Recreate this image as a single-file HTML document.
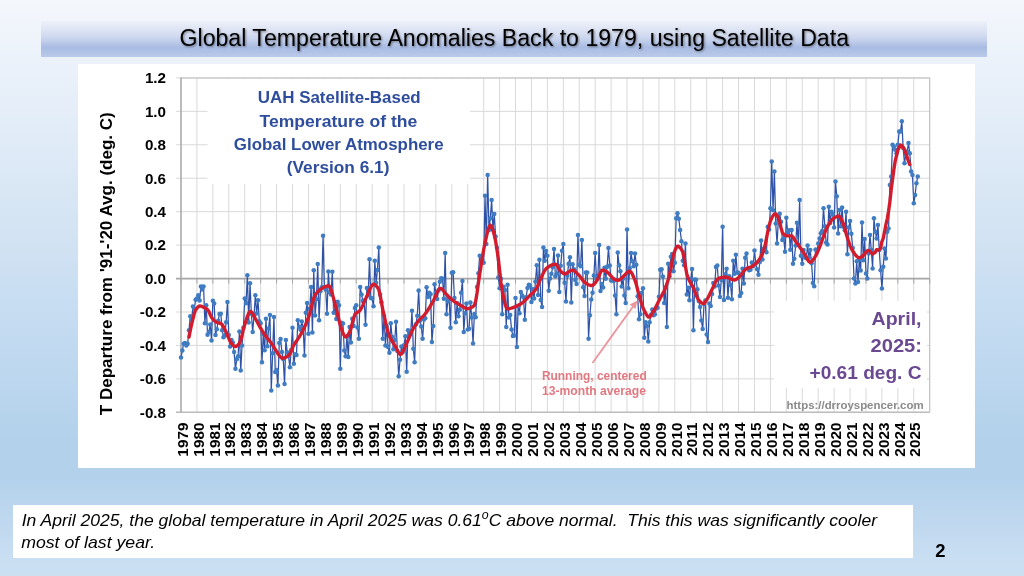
<!DOCTYPE html>
<html><head><meta charset="utf-8"><title>Global Temperature Anomalies</title>
<style>
html,body{margin:0;padding:0;width:1024px;height:576px;overflow:hidden}
body{position:relative;background:linear-gradient(180deg,#f4f7fc 0%,#e5eef9 18.4%,#d1e2f2 42.7%,#c7ddf2 53%,#bbd6ee 67%,#b3d1eb 76.7%,#b3d1eb 82.6%,#bcd6ee 88.5%,#cadff2 98%,#cbdff1 100%);font-family:"Liberation Sans",sans-serif}
#tb{position:absolute;left:41px;top:20.6px;width:946px;height:36px;background:linear-gradient(180deg,#eef1f9 0%,#e5eaf6 12%,#d6def1 35%,#c6d2ed 52%,#b2c3e6 66%,#a9bce3 74%,#b0c1e5 84%,#bbcaea 100%)}
#cb{position:absolute;left:78px;top:63.8px;width:897px;height:403.8px;background:#fff}
#bx{position:absolute;left:13px;top:504.5px;width:900px;height:53.5px;background:#fff}
svg{position:absolute;left:0;top:0}
</style></head><body>
<div id="tb"></div><div id="cb"></div><div id="bx"></div>
<svg width="1024" height="576" viewBox="0 0 1024 576">
<defs><filter id="sh" x="-5%" y="-30%" width="110%" height="160%"><feGaussianBlur in="SourceAlpha" stdDeviation="0.8"/><feOffset dx="1.2" dy="1.2" result="b"/><feComponentTransfer><feFuncA type="linear" slope="0.45"/></feComponentTransfer><feMerge><feMergeNode/><feMergeNode in="SourceGraphic"/></feMerge></filter><filter id="cbl" x="0" y="0" width="1024" height="576" filterUnits="userSpaceOnUse"><feGaussianBlur stdDeviation="0.45"/></filter></defs>
<text x="179.5" y="46" font-size="23" fill="#000" textLength="669.5" lengthAdjust="spacingAndGlyphs" filter="url(#sh)">Global Temperature Anomalies Back to 1979, using Satellite Data</text>
<g filter="url(#cbl)"><g stroke="#d9d9d9" stroke-width="1"><line x1="196.93" y1="78" x2="196.93" y2="412.3" /><line x1="212.86" y1="78" x2="212.86" y2="412.3" /><line x1="228.79" y1="78" x2="228.79" y2="412.3" /><line x1="244.72" y1="78" x2="244.72" y2="412.3" /><line x1="260.65" y1="78" x2="260.65" y2="412.3" /><line x1="276.58" y1="78" x2="276.58" y2="412.3" /><line x1="292.51" y1="78" x2="292.51" y2="412.3" /><line x1="308.44" y1="78" x2="308.44" y2="412.3" /><line x1="324.37" y1="78" x2="324.37" y2="412.3" /><line x1="340.30" y1="78" x2="340.30" y2="412.3" /><line x1="356.23" y1="78" x2="356.23" y2="412.3" /><line x1="372.16" y1="78" x2="372.16" y2="412.3" /><line x1="388.09" y1="78" x2="388.09" y2="412.3" /><line x1="404.02" y1="78" x2="404.02" y2="412.3" /><line x1="419.95" y1="78" x2="419.95" y2="412.3" /><line x1="435.88" y1="78" x2="435.88" y2="412.3" /><line x1="451.81" y1="78" x2="451.81" y2="412.3" /><line x1="467.74" y1="78" x2="467.74" y2="412.3" /><line x1="483.67" y1="78" x2="483.67" y2="412.3" /><line x1="499.60" y1="78" x2="499.60" y2="412.3" /><line x1="515.53" y1="78" x2="515.53" y2="412.3" /><line x1="531.46" y1="78" x2="531.46" y2="412.3" /><line x1="547.39" y1="78" x2="547.39" y2="412.3" /><line x1="563.32" y1="78" x2="563.32" y2="412.3" /><line x1="579.25" y1="78" x2="579.25" y2="412.3" /><line x1="595.18" y1="78" x2="595.18" y2="412.3" /><line x1="611.11" y1="78" x2="611.11" y2="412.3" /><line x1="627.04" y1="78" x2="627.04" y2="412.3" /><line x1="642.97" y1="78" x2="642.97" y2="412.3" /><line x1="658.90" y1="78" x2="658.90" y2="412.3" /><line x1="674.83" y1="78" x2="674.83" y2="412.3" /><line x1="690.76" y1="78" x2="690.76" y2="412.3" /><line x1="706.69" y1="78" x2="706.69" y2="412.3" /><line x1="722.62" y1="78" x2="722.62" y2="412.3" /><line x1="738.55" y1="78" x2="738.55" y2="412.3" /><line x1="754.48" y1="78" x2="754.48" y2="412.3" /><line x1="770.41" y1="78" x2="770.41" y2="412.3" /><line x1="786.34" y1="78" x2="786.34" y2="412.3" /><line x1="802.27" y1="78" x2="802.27" y2="412.3" /><line x1="818.20" y1="78" x2="818.20" y2="412.3" /><line x1="834.13" y1="78" x2="834.13" y2="412.3" /><line x1="850.06" y1="78" x2="850.06" y2="412.3" /><line x1="865.99" y1="78" x2="865.99" y2="412.3" /><line x1="881.92" y1="78" x2="881.92" y2="412.3" /><line x1="897.85" y1="78" x2="897.85" y2="412.3" /><line x1="913.78" y1="78" x2="913.78" y2="412.3" /></g>
<g stroke="#d9d9d9" stroke-width="1"><line x1="176" y1="77.90" x2="929.5" y2="77.90" /><line x1="176" y1="111.34" x2="929.5" y2="111.34" /><line x1="176" y1="144.78" x2="929.5" y2="144.78" /><line x1="176" y1="178.22" x2="929.5" y2="178.22" /><line x1="176" y1="211.66" x2="929.5" y2="211.66" /><line x1="176" y1="245.10" x2="929.5" y2="245.10" /><line x1="176" y1="311.98" x2="929.5" y2="311.98" /><line x1="176" y1="345.42" x2="929.5" y2="345.42" /><line x1="176" y1="378.86" x2="929.5" y2="378.86" /><line x1="176" y1="412.30" x2="929.5" y2="412.30" /></g>
<rect x="207.5" y="79" width="262.5" height="105" fill="#fff"/>
<rect x="774" y="300.8" width="153" height="87.2" fill="#fff"/>
<path d="M181 78 H929.7 V412.3" fill="none" stroke="#bfbfbf" stroke-width="1.2"/>
<line x1="176" y1="278.54" x2="929.5" y2="278.54" stroke="#a6a6a6" stroke-width="1.8"/>
<path d="M181.00 278.54v5M196.93 278.54v5M212.86 278.54v5M228.79 278.54v5M244.72 278.54v5M260.65 278.54v5M276.58 278.54v5M292.51 278.54v5M308.44 278.54v5M324.37 278.54v5M340.30 278.54v5M356.23 278.54v5M372.16 278.54v5M388.09 278.54v5M404.02 278.54v5M419.95 278.54v5M435.88 278.54v5M451.81 278.54v5M467.74 278.54v5M483.67 278.54v5M499.60 278.54v5M515.53 278.54v5M531.46 278.54v5M547.39 278.54v5M563.32 278.54v5M579.25 278.54v5M595.18 278.54v5M611.11 278.54v5M627.04 278.54v5M642.97 278.54v5M658.90 278.54v5M674.83 278.54v5M690.76 278.54v5M706.69 278.54v5M722.62 278.54v5M738.55 278.54v5M754.48 278.54v5M770.41 278.54v5M786.34 278.54v5M802.27 278.54v5M818.20 278.54v5M834.13 278.54v5M850.06 278.54v5M865.99 278.54v5M881.92 278.54v5M897.85 278.54v5M913.78 278.54v5M929.71 278.54v5" stroke="#a6a6a6" stroke-width="1"/>
<path d="M176 412.3 H929.7" fill="none" stroke="#bdbdbd" stroke-width="1.4"/>
<path d="M181 77.4 V412.3" fill="none" stroke="#ababab" stroke-width="1.6"/>
<g font-size="15.2" font-weight="bold" fill="#000"><text x="166" y="83.20" text-anchor="end">1.2</text><text x="166" y="116.64" text-anchor="end">1.0</text><text x="166" y="150.08" text-anchor="end">0.8</text><text x="166" y="183.52" text-anchor="end">0.6</text><text x="166" y="216.96" text-anchor="end">0.4</text><text x="166" y="250.40" text-anchor="end">0.2</text><text x="166" y="283.84" text-anchor="end">0.0</text><text x="166" y="317.28" text-anchor="end">-0.2</text><text x="166" y="350.72" text-anchor="end">-0.4</text><text x="166" y="384.16" text-anchor="end">-0.6</text><text x="166" y="417.60" text-anchor="end">-0.8</text></g>
<g font-size="15.3" font-weight="bold" fill="#000"><text transform="translate(187.70,422.6) rotate(-90)" text-anchor="end">1979</text><text transform="translate(203.63,422.6) rotate(-90)" text-anchor="end">1980</text><text transform="translate(219.56,422.6) rotate(-90)" text-anchor="end">1981</text><text transform="translate(235.49,422.6) rotate(-90)" text-anchor="end">1982</text><text transform="translate(251.42,422.6) rotate(-90)" text-anchor="end">1983</text><text transform="translate(267.35,422.6) rotate(-90)" text-anchor="end">1984</text><text transform="translate(283.28,422.6) rotate(-90)" text-anchor="end">1985</text><text transform="translate(299.21,422.6) rotate(-90)" text-anchor="end">1986</text><text transform="translate(315.14,422.6) rotate(-90)" text-anchor="end">1987</text><text transform="translate(331.07,422.6) rotate(-90)" text-anchor="end">1988</text><text transform="translate(347.00,422.6) rotate(-90)" text-anchor="end">1989</text><text transform="translate(362.93,422.6) rotate(-90)" text-anchor="end">1990</text><text transform="translate(378.86,422.6) rotate(-90)" text-anchor="end">1991</text><text transform="translate(394.79,422.6) rotate(-90)" text-anchor="end">1992</text><text transform="translate(410.72,422.6) rotate(-90)" text-anchor="end">1993</text><text transform="translate(426.65,422.6) rotate(-90)" text-anchor="end">1994</text><text transform="translate(442.58,422.6) rotate(-90)" text-anchor="end">1995</text><text transform="translate(458.51,422.6) rotate(-90)" text-anchor="end">1996</text><text transform="translate(474.44,422.6) rotate(-90)" text-anchor="end">1997</text><text transform="translate(490.37,422.6) rotate(-90)" text-anchor="end">1998</text><text transform="translate(506.30,422.6) rotate(-90)" text-anchor="end">1999</text><text transform="translate(522.23,422.6) rotate(-90)" text-anchor="end">2000</text><text transform="translate(538.16,422.6) rotate(-90)" text-anchor="end">2001</text><text transform="translate(554.09,422.6) rotate(-90)" text-anchor="end">2002</text><text transform="translate(570.02,422.6) rotate(-90)" text-anchor="end">2003</text><text transform="translate(585.95,422.6) rotate(-90)" text-anchor="end">2004</text><text transform="translate(601.88,422.6) rotate(-90)" text-anchor="end">2005</text><text transform="translate(617.81,422.6) rotate(-90)" text-anchor="end">2006</text><text transform="translate(633.74,422.6) rotate(-90)" text-anchor="end">2007</text><text transform="translate(649.67,422.6) rotate(-90)" text-anchor="end">2008</text><text transform="translate(665.60,422.6) rotate(-90)" text-anchor="end">2009</text><text transform="translate(681.53,422.6) rotate(-90)" text-anchor="end">2010</text><text transform="translate(697.46,422.6) rotate(-90)" text-anchor="end">2011</text><text transform="translate(713.39,422.6) rotate(-90)" text-anchor="end">2012</text><text transform="translate(729.32,422.6) rotate(-90)" text-anchor="end">2013</text><text transform="translate(745.25,422.6) rotate(-90)" text-anchor="end">2014</text><text transform="translate(761.18,422.6) rotate(-90)" text-anchor="end">2015</text><text transform="translate(777.11,422.6) rotate(-90)" text-anchor="end">2016</text><text transform="translate(793.04,422.6) rotate(-90)" text-anchor="end">2017</text><text transform="translate(808.97,422.6) rotate(-90)" text-anchor="end">2018</text><text transform="translate(824.90,422.6) rotate(-90)" text-anchor="end">2019</text><text transform="translate(840.83,422.6) rotate(-90)" text-anchor="end">2020</text><text transform="translate(856.76,422.6) rotate(-90)" text-anchor="end">2021</text><text transform="translate(872.69,422.6) rotate(-90)" text-anchor="end">2022</text><text transform="translate(888.62,422.6) rotate(-90)" text-anchor="end">2023</text><text transform="translate(904.55,422.6) rotate(-90)" text-anchor="end">2024</text><text transform="translate(920.48,422.6) rotate(-90)" text-anchor="end">2025</text></g>
<text transform="translate(112.4,415.2) rotate(-90)" font-size="17" font-weight="bold" fill="#000" textLength="303" lengthAdjust="spacingAndGlyphs">T Departure from '91-'20 Avg. (deg. C)</text>
<g font-size="15.6" font-weight="bold" fill="#2e4d9c"><text x="257.7" y="103.3" textLength="163" lengthAdjust="spacingAndGlyphs">UAH Satellite-Based</text><text x="259.5" y="126.5" textLength="157.8" lengthAdjust="spacingAndGlyphs">Temperature of the</text><text x="233.8" y="150" textLength="209.8" lengthAdjust="spacingAndGlyphs">Global Lower Atmosphere</text><text x="286.8" y="173.2" textLength="102.6" lengthAdjust="spacingAndGlyphs">(Version 6.1)</text></g>
<polyline points="181.00,357.46 182.33,350.44 183.66,343.75 184.98,342.91 186.31,345.42 187.64,343.75 188.97,330.37 190.29,316.16 191.62,320.01 192.95,306.46 194.28,308.80 195.60,299.77 196.93,298.44 198.26,295.26 199.59,300.44 200.91,286.40 202.24,289.41 203.57,286.40 204.90,323.18 206.22,305.29 207.55,334.72 208.88,332.04 210.20,324.52 211.53,340.40 212.86,300.78 214.19,303.62 215.51,334.89 216.84,329.37 218.17,320.67 219.50,313.99 220.82,313.65 222.15,330.37 223.48,337.23 224.81,335.39 226.13,322.18 227.46,301.95 228.79,334.89 230.12,346.59 231.44,340.07 232.77,342.41 234.10,352.11 235.43,368.83 236.75,359.13 238.08,356.29 239.41,331.54 240.74,370.50 242.06,345.42 243.39,327.70 244.72,298.60 246.05,303.29 247.38,275.20 248.70,322.51 250.03,283.22 251.36,313.82 252.69,332.04 254.01,315.66 255.34,295.26 256.67,313.48 258.00,300.28 259.32,321.18 260.65,323.35 261.98,362.14 263.31,333.88 264.63,350.27 265.96,318.67 267.29,346.26 268.62,328.53 269.94,314.99 271.27,390.56 272.60,353.28 273.93,317.00 275.25,372.00 276.58,370.00 277.91,385.55 279.24,342.91 280.56,338.90 281.89,351.94 283.22,358.96 284.55,383.88 285.87,339.90 287.20,352.28 288.53,355.95 289.86,367.16 291.18,350.10 292.51,327.86 293.84,363.81 295.17,354.28 296.49,355.12 297.82,320.34 299.15,326.86 300.48,329.87 301.80,321.51 303.13,328.03 304.46,355.45 305.79,312.65 307.11,302.95 308.44,333.72 309.77,308.64 311.10,286.90 312.42,332.38 313.75,270.18 315.08,315.49 316.40,299.27 317.73,263.99 319.06,320.34 320.39,291.25 321.72,287.23 323.04,235.74 324.37,287.23 325.70,289.74 327.02,313.65 328.35,271.52 329.68,292.25 331.01,294.42 332.34,271.85 333.66,312.82 334.99,307.80 336.32,319.00 337.64,301.78 338.97,305.29 340.30,368.83 341.63,322.68 342.96,323.52 344.28,350.60 345.61,356.29 346.94,336.39 348.26,357.12 349.59,327.03 350.92,342.58 352.25,318.67 353.58,326.02 354.90,307.97 356.23,305.29 357.56,327.53 358.88,338.73 360.21,287.07 361.54,294.59 362.87,300.94 364.20,300.61 365.52,324.85 366.85,288.07 368.18,295.09 369.50,259.14 370.83,298.10 372.16,298.60 373.49,306.30 374.81,260.65 376.14,282.72 377.47,270.01 378.80,247.61 380.12,294.42 381.45,302.28 382.78,338.73 384.11,315.99 385.43,345.42 386.76,326.53 388.09,347.09 389.42,352.78 390.75,323.18 392.07,336.73 393.40,349.27 394.73,340.24 396.05,321.84 397.38,351.10 398.71,376.35 400.04,359.63 401.37,346.59 402.69,351.94 404.02,345.25 405.35,336.22 406.67,371.67 408.00,330.37 409.33,335.22 410.66,333.55 411.99,310.81 413.31,348.76 414.64,362.14 415.97,324.35 417.29,315.83 418.62,290.41 419.95,320.67 421.28,326.53 422.61,338.73 423.93,319.50 425.26,318.33 426.59,287.23 427.91,297.10 429.24,292.75 430.57,294.26 431.90,342.08 433.23,326.02 434.55,284.22 435.88,292.75 437.21,298.94 438.54,290.41 439.86,281.72 441.19,278.21 442.52,278.71 443.84,298.77 445.17,252.96 446.50,314.15 447.83,301.28 449.16,299.11 450.48,327.86 451.81,272.86 453.14,272.19 454.46,297.94 455.79,322.35 457.12,303.29 458.45,316.16 459.77,309.64 461.10,292.75 462.43,281.05 463.76,332.04 465.08,313.32 466.41,303.45 467.74,329.54 469.07,328.70 470.39,302.45 471.72,317.50 473.05,343.41 474.38,313.99 475.70,317.33 477.03,286.90 478.36,273.19 479.69,255.80 481.01,262.82 482.34,259.98 483.67,262.82 485.00,195.78 486.32,244.10 487.65,174.88 488.98,230.05 490.31,218.35 491.63,199.96 492.96,229.72 494.29,214.00 495.62,236.57 496.94,247.78 498.27,277.54 499.60,288.24 500.93,278.87 502.25,314.32 503.58,286.73 504.91,289.91 506.24,327.03 507.56,284.73 508.89,317.50 510.22,314.99 511.55,329.54 512.88,335.89 514.20,335.39 515.53,297.94 516.86,347.09 518.18,306.30 519.51,313.15 520.84,292.08 522.17,295.43 523.49,297.60 524.82,319.67 526.15,297.27 527.48,287.90 528.81,284.73 530.13,285.40 531.46,301.95 532.79,289.07 534.12,298.60 535.44,281.55 536.77,265.16 538.10,294.93 539.42,259.65 540.75,299.94 542.08,306.96 543.41,247.61 544.73,260.65 546.06,251.12 547.39,255.63 548.72,290.75 550.05,278.54 551.37,273.86 552.70,267.34 554.03,249.11 555.36,276.20 556.68,273.69 558.01,255.47 559.34,291.92 560.66,265.83 561.99,250.78 563.32,243.93 564.65,282.72 565.97,301.61 567.30,275.70 568.63,263.83 569.96,257.14 571.29,302.45 572.61,264.16 573.94,269.18 575.27,280.04 576.60,284.06 577.92,235.07 579.25,264.83 580.58,266.33 581.90,240.08 583.23,287.23 584.56,295.93 585.89,272.52 587.21,272.52 588.54,338.73 589.87,315.32 591.20,299.44 592.53,292.75 593.85,275.53 595.18,252.96 596.51,278.87 597.84,276.53 599.16,245.10 600.49,290.91 601.82,283.89 603.14,287.40 604.47,267.84 605.80,278.71 607.13,266.67 608.45,247.94 609.78,265.50 611.11,280.55 612.44,280.04 613.77,280.88 615.09,295.59 616.42,314.15 617.75,252.62 619.08,265.16 620.40,271.18 621.73,286.40 623.06,278.71 624.38,295.59 625.71,302.95 627.04,229.55 628.37,288.24 629.69,268.34 631.02,252.96 632.35,261.32 633.68,266.17 635.00,253.46 636.33,264.66 637.66,296.26 638.99,319.17 640.32,314.32 641.64,292.92 642.97,288.24 644.30,337.73 645.62,322.35 646.95,326.02 648.28,341.57 649.61,322.18 650.93,314.82 652.26,309.47 653.59,315.16 654.92,314.32 656.24,308.47 657.57,307.80 658.90,296.76 660.23,269.68 661.56,269.34 662.88,276.53 664.21,302.95 665.54,287.57 666.87,327.03 668.19,263.83 669.52,276.37 670.85,256.64 672.17,253.96 673.50,271.35 674.83,262.66 676.16,218.35 677.48,213.33 678.81,218.85 680.14,230.05 681.47,241.25 682.80,260.82 684.12,265.33 685.45,243.43 686.78,294.59 688.11,287.74 689.43,300.28 690.76,279.21 692.09,269.01 693.41,330.37 694.74,279.54 696.07,279.71 697.40,289.24 698.73,301.11 700.05,306.96 701.38,320.51 702.71,329.03 704.03,303.95 705.36,300.44 706.69,334.55 708.02,342.08 709.35,303.62 710.67,305.96 712.00,293.92 713.33,283.05 714.65,286.57 715.98,267.00 717.31,265.50 718.64,285.56 719.97,296.93 721.29,279.88 722.62,226.71 723.95,300.11 725.27,274.19 726.60,268.68 727.93,297.77 729.26,276.20 730.58,285.06 731.91,299.27 733.24,260.82 734.57,273.69 735.89,254.80 737.22,272.52 738.55,272.69 739.88,296.10 741.21,292.92 742.53,268.84 743.86,283.56 745.19,257.81 746.51,253.46 747.84,268.17 749.17,270.18 750.50,269.68 751.82,262.49 753.15,266.33 754.48,250.45 755.81,263.49 757.13,269.34 758.46,274.86 759.79,261.99 761.12,240.42 762.45,259.48 763.77,249.11 765.10,250.62 766.43,252.29 767.75,226.71 769.08,229.38 770.41,208.32 771.74,161.50 773.06,210.16 774.39,171.53 775.72,223.53 777.05,243.43 778.38,220.02 779.70,213.83 781.03,221.69 782.36,239.92 783.69,238.24 785.01,251.79 786.34,217.68 787.67,232.56 789.00,230.22 790.32,249.78 791.65,230.05 792.98,263.66 794.30,258.81 795.63,245.60 796.96,222.86 798.29,244.43 799.62,199.96 800.94,255.63 802.27,263.66 803.60,249.95 804.92,257.14 806.25,258.14 807.58,245.60 808.91,257.47 810.24,250.12 811.56,263.16 812.89,283.05 814.22,286.23 815.54,249.45 816.87,251.79 818.20,243.60 819.53,238.41 820.86,233.23 822.18,231.06 823.51,208.32 824.84,226.21 826.16,242.59 827.49,244.60 828.82,206.64 830.15,223.03 831.48,211.66 832.80,214.17 834.13,227.38 835.46,181.56 836.78,196.28 838.11,233.40 839.44,209.99 840.77,226.37 842.09,207.48 843.42,226.71 844.75,230.22 846.08,211.66 847.40,254.13 848.73,227.38 850.06,221.02 851.39,233.73 852.72,248.11 854.04,278.54 855.37,283.56 856.70,261.32 858.02,281.88 859.35,259.31 860.68,270.51 862.01,222.53 863.33,260.15 864.66,239.08 865.99,273.52 867.32,278.54 868.64,253.46 869.97,235.07 871.30,250.12 872.63,268.51 873.95,218.35 875.28,231.72 876.61,238.41 877.94,225.04 879.26,250.12 880.59,270.18 881.92,288.57 883.25,266.84 884.57,248.44 885.90,258.48 887.23,231.72 888.56,228.38 889.88,184.91 891.21,176.55 892.54,144.78 893.87,146.45 895.20,149.80 896.52,153.14 897.85,144.78 899.18,131.40 900.50,131.40 901.83,121.37 903.16,148.12 904.49,163.17 905.82,154.81 907.14,151.47 908.47,143.11 909.80,153.14 911.12,171.53 912.45,174.88 913.78,203.30 915.11,194.94 916.43,183.24 917.76,176.55" fill="none" stroke="#2f52a6" stroke-width="1.25" stroke-linejoin="round"/>
<g fill="#3f7cc2"><circle cx="181.00" cy="357.46" r="2.25"/><circle cx="182.33" cy="350.44" r="2.25"/><circle cx="183.66" cy="343.75" r="2.25"/><circle cx="184.98" cy="342.91" r="2.25"/><circle cx="186.31" cy="345.42" r="2.25"/><circle cx="187.64" cy="343.75" r="2.25"/><circle cx="188.97" cy="330.37" r="2.25"/><circle cx="190.29" cy="316.16" r="2.25"/><circle cx="191.62" cy="320.01" r="2.25"/><circle cx="192.95" cy="306.46" r="2.25"/><circle cx="194.28" cy="308.80" r="2.25"/><circle cx="195.60" cy="299.77" r="2.25"/><circle cx="196.93" cy="298.44" r="2.25"/><circle cx="198.26" cy="295.26" r="2.25"/><circle cx="199.59" cy="300.44" r="2.25"/><circle cx="200.91" cy="286.40" r="2.25"/><circle cx="202.24" cy="289.41" r="2.25"/><circle cx="203.57" cy="286.40" r="2.25"/><circle cx="204.90" cy="323.18" r="2.25"/><circle cx="206.22" cy="305.29" r="2.25"/><circle cx="207.55" cy="334.72" r="2.25"/><circle cx="208.88" cy="332.04" r="2.25"/><circle cx="210.20" cy="324.52" r="2.25"/><circle cx="211.53" cy="340.40" r="2.25"/><circle cx="212.86" cy="300.78" r="2.25"/><circle cx="214.19" cy="303.62" r="2.25"/><circle cx="215.51" cy="334.89" r="2.25"/><circle cx="216.84" cy="329.37" r="2.25"/><circle cx="218.17" cy="320.67" r="2.25"/><circle cx="219.50" cy="313.99" r="2.25"/><circle cx="220.82" cy="313.65" r="2.25"/><circle cx="222.15" cy="330.37" r="2.25"/><circle cx="223.48" cy="337.23" r="2.25"/><circle cx="224.81" cy="335.39" r="2.25"/><circle cx="226.13" cy="322.18" r="2.25"/><circle cx="227.46" cy="301.95" r="2.25"/><circle cx="228.79" cy="334.89" r="2.25"/><circle cx="230.12" cy="346.59" r="2.25"/><circle cx="231.44" cy="340.07" r="2.25"/><circle cx="232.77" cy="342.41" r="2.25"/><circle cx="234.10" cy="352.11" r="2.25"/><circle cx="235.43" cy="368.83" r="2.25"/><circle cx="236.75" cy="359.13" r="2.25"/><circle cx="238.08" cy="356.29" r="2.25"/><circle cx="239.41" cy="331.54" r="2.25"/><circle cx="240.74" cy="370.50" r="2.25"/><circle cx="242.06" cy="345.42" r="2.25"/><circle cx="243.39" cy="327.70" r="2.25"/><circle cx="244.72" cy="298.60" r="2.25"/><circle cx="246.05" cy="303.29" r="2.25"/><circle cx="247.38" cy="275.20" r="2.25"/><circle cx="248.70" cy="322.51" r="2.25"/><circle cx="250.03" cy="283.22" r="2.25"/><circle cx="251.36" cy="313.82" r="2.25"/><circle cx="252.69" cy="332.04" r="2.25"/><circle cx="254.01" cy="315.66" r="2.25"/><circle cx="255.34" cy="295.26" r="2.25"/><circle cx="256.67" cy="313.48" r="2.25"/><circle cx="258.00" cy="300.28" r="2.25"/><circle cx="259.32" cy="321.18" r="2.25"/><circle cx="260.65" cy="323.35" r="2.25"/><circle cx="261.98" cy="362.14" r="2.25"/><circle cx="263.31" cy="333.88" r="2.25"/><circle cx="264.63" cy="350.27" r="2.25"/><circle cx="265.96" cy="318.67" r="2.25"/><circle cx="267.29" cy="346.26" r="2.25"/><circle cx="268.62" cy="328.53" r="2.25"/><circle cx="269.94" cy="314.99" r="2.25"/><circle cx="271.27" cy="390.56" r="2.25"/><circle cx="272.60" cy="353.28" r="2.25"/><circle cx="273.93" cy="317.00" r="2.25"/><circle cx="275.25" cy="372.00" r="2.25"/><circle cx="276.58" cy="370.00" r="2.25"/><circle cx="277.91" cy="385.55" r="2.25"/><circle cx="279.24" cy="342.91" r="2.25"/><circle cx="280.56" cy="338.90" r="2.25"/><circle cx="281.89" cy="351.94" r="2.25"/><circle cx="283.22" cy="358.96" r="2.25"/><circle cx="284.55" cy="383.88" r="2.25"/><circle cx="285.87" cy="339.90" r="2.25"/><circle cx="287.20" cy="352.28" r="2.25"/><circle cx="288.53" cy="355.95" r="2.25"/><circle cx="289.86" cy="367.16" r="2.25"/><circle cx="291.18" cy="350.10" r="2.25"/><circle cx="292.51" cy="327.86" r="2.25"/><circle cx="293.84" cy="363.81" r="2.25"/><circle cx="295.17" cy="354.28" r="2.25"/><circle cx="296.49" cy="355.12" r="2.25"/><circle cx="297.82" cy="320.34" r="2.25"/><circle cx="299.15" cy="326.86" r="2.25"/><circle cx="300.48" cy="329.87" r="2.25"/><circle cx="301.80" cy="321.51" r="2.25"/><circle cx="303.13" cy="328.03" r="2.25"/><circle cx="304.46" cy="355.45" r="2.25"/><circle cx="305.79" cy="312.65" r="2.25"/><circle cx="307.11" cy="302.95" r="2.25"/><circle cx="308.44" cy="333.72" r="2.25"/><circle cx="309.77" cy="308.64" r="2.25"/><circle cx="311.10" cy="286.90" r="2.25"/><circle cx="312.42" cy="332.38" r="2.25"/><circle cx="313.75" cy="270.18" r="2.25"/><circle cx="315.08" cy="315.49" r="2.25"/><circle cx="316.40" cy="299.27" r="2.25"/><circle cx="317.73" cy="263.99" r="2.25"/><circle cx="319.06" cy="320.34" r="2.25"/><circle cx="320.39" cy="291.25" r="2.25"/><circle cx="321.72" cy="287.23" r="2.25"/><circle cx="323.04" cy="235.74" r="2.25"/><circle cx="324.37" cy="287.23" r="2.25"/><circle cx="325.70" cy="289.74" r="2.25"/><circle cx="327.02" cy="313.65" r="2.25"/><circle cx="328.35" cy="271.52" r="2.25"/><circle cx="329.68" cy="292.25" r="2.25"/><circle cx="331.01" cy="294.42" r="2.25"/><circle cx="332.34" cy="271.85" r="2.25"/><circle cx="333.66" cy="312.82" r="2.25"/><circle cx="334.99" cy="307.80" r="2.25"/><circle cx="336.32" cy="319.00" r="2.25"/><circle cx="337.64" cy="301.78" r="2.25"/><circle cx="338.97" cy="305.29" r="2.25"/><circle cx="340.30" cy="368.83" r="2.25"/><circle cx="341.63" cy="322.68" r="2.25"/><circle cx="342.96" cy="323.52" r="2.25"/><circle cx="344.28" cy="350.60" r="2.25"/><circle cx="345.61" cy="356.29" r="2.25"/><circle cx="346.94" cy="336.39" r="2.25"/><circle cx="348.26" cy="357.12" r="2.25"/><circle cx="349.59" cy="327.03" r="2.25"/><circle cx="350.92" cy="342.58" r="2.25"/><circle cx="352.25" cy="318.67" r="2.25"/><circle cx="353.58" cy="326.02" r="2.25"/><circle cx="354.90" cy="307.97" r="2.25"/><circle cx="356.23" cy="305.29" r="2.25"/><circle cx="357.56" cy="327.53" r="2.25"/><circle cx="358.88" cy="338.73" r="2.25"/><circle cx="360.21" cy="287.07" r="2.25"/><circle cx="361.54" cy="294.59" r="2.25"/><circle cx="362.87" cy="300.94" r="2.25"/><circle cx="364.20" cy="300.61" r="2.25"/><circle cx="365.52" cy="324.85" r="2.25"/><circle cx="366.85" cy="288.07" r="2.25"/><circle cx="368.18" cy="295.09" r="2.25"/><circle cx="369.50" cy="259.14" r="2.25"/><circle cx="370.83" cy="298.10" r="2.25"/><circle cx="372.16" cy="298.60" r="2.25"/><circle cx="373.49" cy="306.30" r="2.25"/><circle cx="374.81" cy="260.65" r="2.25"/><circle cx="376.14" cy="282.72" r="2.25"/><circle cx="377.47" cy="270.01" r="2.25"/><circle cx="378.80" cy="247.61" r="2.25"/><circle cx="380.12" cy="294.42" r="2.25"/><circle cx="381.45" cy="302.28" r="2.25"/><circle cx="382.78" cy="338.73" r="2.25"/><circle cx="384.11" cy="315.99" r="2.25"/><circle cx="385.43" cy="345.42" r="2.25"/><circle cx="386.76" cy="326.53" r="2.25"/><circle cx="388.09" cy="347.09" r="2.25"/><circle cx="389.42" cy="352.78" r="2.25"/><circle cx="390.75" cy="323.18" r="2.25"/><circle cx="392.07" cy="336.73" r="2.25"/><circle cx="393.40" cy="349.27" r="2.25"/><circle cx="394.73" cy="340.24" r="2.25"/><circle cx="396.05" cy="321.84" r="2.25"/><circle cx="397.38" cy="351.10" r="2.25"/><circle cx="398.71" cy="376.35" r="2.25"/><circle cx="400.04" cy="359.63" r="2.25"/><circle cx="401.37" cy="346.59" r="2.25"/><circle cx="402.69" cy="351.94" r="2.25"/><circle cx="404.02" cy="345.25" r="2.25"/><circle cx="405.35" cy="336.22" r="2.25"/><circle cx="406.67" cy="371.67" r="2.25"/><circle cx="408.00" cy="330.37" r="2.25"/><circle cx="409.33" cy="335.22" r="2.25"/><circle cx="410.66" cy="333.55" r="2.25"/><circle cx="411.99" cy="310.81" r="2.25"/><circle cx="413.31" cy="348.76" r="2.25"/><circle cx="414.64" cy="362.14" r="2.25"/><circle cx="415.97" cy="324.35" r="2.25"/><circle cx="417.29" cy="315.83" r="2.25"/><circle cx="418.62" cy="290.41" r="2.25"/><circle cx="419.95" cy="320.67" r="2.25"/><circle cx="421.28" cy="326.53" r="2.25"/><circle cx="422.61" cy="338.73" r="2.25"/><circle cx="423.93" cy="319.50" r="2.25"/><circle cx="425.26" cy="318.33" r="2.25"/><circle cx="426.59" cy="287.23" r="2.25"/><circle cx="427.91" cy="297.10" r="2.25"/><circle cx="429.24" cy="292.75" r="2.25"/><circle cx="430.57" cy="294.26" r="2.25"/><circle cx="431.90" cy="342.08" r="2.25"/><circle cx="433.23" cy="326.02" r="2.25"/><circle cx="434.55" cy="284.22" r="2.25"/><circle cx="435.88" cy="292.75" r="2.25"/><circle cx="437.21" cy="298.94" r="2.25"/><circle cx="438.54" cy="290.41" r="2.25"/><circle cx="439.86" cy="281.72" r="2.25"/><circle cx="441.19" cy="278.21" r="2.25"/><circle cx="442.52" cy="278.71" r="2.25"/><circle cx="443.84" cy="298.77" r="2.25"/><circle cx="445.17" cy="252.96" r="2.25"/><circle cx="446.50" cy="314.15" r="2.25"/><circle cx="447.83" cy="301.28" r="2.25"/><circle cx="449.16" cy="299.11" r="2.25"/><circle cx="450.48" cy="327.86" r="2.25"/><circle cx="451.81" cy="272.86" r="2.25"/><circle cx="453.14" cy="272.19" r="2.25"/><circle cx="454.46" cy="297.94" r="2.25"/><circle cx="455.79" cy="322.35" r="2.25"/><circle cx="457.12" cy="303.29" r="2.25"/><circle cx="458.45" cy="316.16" r="2.25"/><circle cx="459.77" cy="309.64" r="2.25"/><circle cx="461.10" cy="292.75" r="2.25"/><circle cx="462.43" cy="281.05" r="2.25"/><circle cx="463.76" cy="332.04" r="2.25"/><circle cx="465.08" cy="313.32" r="2.25"/><circle cx="466.41" cy="303.45" r="2.25"/><circle cx="467.74" cy="329.54" r="2.25"/><circle cx="469.07" cy="328.70" r="2.25"/><circle cx="470.39" cy="302.45" r="2.25"/><circle cx="471.72" cy="317.50" r="2.25"/><circle cx="473.05" cy="343.41" r="2.25"/><circle cx="474.38" cy="313.99" r="2.25"/><circle cx="475.70" cy="317.33" r="2.25"/><circle cx="477.03" cy="286.90" r="2.25"/><circle cx="478.36" cy="273.19" r="2.25"/><circle cx="479.69" cy="255.80" r="2.25"/><circle cx="481.01" cy="262.82" r="2.25"/><circle cx="482.34" cy="259.98" r="2.25"/><circle cx="483.67" cy="262.82" r="2.25"/><circle cx="485.00" cy="195.78" r="2.25"/><circle cx="486.32" cy="244.10" r="2.25"/><circle cx="487.65" cy="174.88" r="2.25"/><circle cx="488.98" cy="230.05" r="2.25"/><circle cx="490.31" cy="218.35" r="2.25"/><circle cx="491.63" cy="199.96" r="2.25"/><circle cx="492.96" cy="229.72" r="2.25"/><circle cx="494.29" cy="214.00" r="2.25"/><circle cx="495.62" cy="236.57" r="2.25"/><circle cx="496.94" cy="247.78" r="2.25"/><circle cx="498.27" cy="277.54" r="2.25"/><circle cx="499.60" cy="288.24" r="2.25"/><circle cx="500.93" cy="278.87" r="2.25"/><circle cx="502.25" cy="314.32" r="2.25"/><circle cx="503.58" cy="286.73" r="2.25"/><circle cx="504.91" cy="289.91" r="2.25"/><circle cx="506.24" cy="327.03" r="2.25"/><circle cx="507.56" cy="284.73" r="2.25"/><circle cx="508.89" cy="317.50" r="2.25"/><circle cx="510.22" cy="314.99" r="2.25"/><circle cx="511.55" cy="329.54" r="2.25"/><circle cx="512.88" cy="335.89" r="2.25"/><circle cx="514.20" cy="335.39" r="2.25"/><circle cx="515.53" cy="297.94" r="2.25"/><circle cx="516.86" cy="347.09" r="2.25"/><circle cx="518.18" cy="306.30" r="2.25"/><circle cx="519.51" cy="313.15" r="2.25"/><circle cx="520.84" cy="292.08" r="2.25"/><circle cx="522.17" cy="295.43" r="2.25"/><circle cx="523.49" cy="297.60" r="2.25"/><circle cx="524.82" cy="319.67" r="2.25"/><circle cx="526.15" cy="297.27" r="2.25"/><circle cx="527.48" cy="287.90" r="2.25"/><circle cx="528.81" cy="284.73" r="2.25"/><circle cx="530.13" cy="285.40" r="2.25"/><circle cx="531.46" cy="301.95" r="2.25"/><circle cx="532.79" cy="289.07" r="2.25"/><circle cx="534.12" cy="298.60" r="2.25"/><circle cx="535.44" cy="281.55" r="2.25"/><circle cx="536.77" cy="265.16" r="2.25"/><circle cx="538.10" cy="294.93" r="2.25"/><circle cx="539.42" cy="259.65" r="2.25"/><circle cx="540.75" cy="299.94" r="2.25"/><circle cx="542.08" cy="306.96" r="2.25"/><circle cx="543.41" cy="247.61" r="2.25"/><circle cx="544.73" cy="260.65" r="2.25"/><circle cx="546.06" cy="251.12" r="2.25"/><circle cx="547.39" cy="255.63" r="2.25"/><circle cx="548.72" cy="290.75" r="2.25"/><circle cx="550.05" cy="278.54" r="2.25"/><circle cx="551.37" cy="273.86" r="2.25"/><circle cx="552.70" cy="267.34" r="2.25"/><circle cx="554.03" cy="249.11" r="2.25"/><circle cx="555.36" cy="276.20" r="2.25"/><circle cx="556.68" cy="273.69" r="2.25"/><circle cx="558.01" cy="255.47" r="2.25"/><circle cx="559.34" cy="291.92" r="2.25"/><circle cx="560.66" cy="265.83" r="2.25"/><circle cx="561.99" cy="250.78" r="2.25"/><circle cx="563.32" cy="243.93" r="2.25"/><circle cx="564.65" cy="282.72" r="2.25"/><circle cx="565.97" cy="301.61" r="2.25"/><circle cx="567.30" cy="275.70" r="2.25"/><circle cx="568.63" cy="263.83" r="2.25"/><circle cx="569.96" cy="257.14" r="2.25"/><circle cx="571.29" cy="302.45" r="2.25"/><circle cx="572.61" cy="264.16" r="2.25"/><circle cx="573.94" cy="269.18" r="2.25"/><circle cx="575.27" cy="280.04" r="2.25"/><circle cx="576.60" cy="284.06" r="2.25"/><circle cx="577.92" cy="235.07" r="2.25"/><circle cx="579.25" cy="264.83" r="2.25"/><circle cx="580.58" cy="266.33" r="2.25"/><circle cx="581.90" cy="240.08" r="2.25"/><circle cx="583.23" cy="287.23" r="2.25"/><circle cx="584.56" cy="295.93" r="2.25"/><circle cx="585.89" cy="272.52" r="2.25"/><circle cx="587.21" cy="272.52" r="2.25"/><circle cx="588.54" cy="338.73" r="2.25"/><circle cx="589.87" cy="315.32" r="2.25"/><circle cx="591.20" cy="299.44" r="2.25"/><circle cx="592.53" cy="292.75" r="2.25"/><circle cx="593.85" cy="275.53" r="2.25"/><circle cx="595.18" cy="252.96" r="2.25"/><circle cx="596.51" cy="278.87" r="2.25"/><circle cx="597.84" cy="276.53" r="2.25"/><circle cx="599.16" cy="245.10" r="2.25"/><circle cx="600.49" cy="290.91" r="2.25"/><circle cx="601.82" cy="283.89" r="2.25"/><circle cx="603.14" cy="287.40" r="2.25"/><circle cx="604.47" cy="267.84" r="2.25"/><circle cx="605.80" cy="278.71" r="2.25"/><circle cx="607.13" cy="266.67" r="2.25"/><circle cx="608.45" cy="247.94" r="2.25"/><circle cx="609.78" cy="265.50" r="2.25"/><circle cx="611.11" cy="280.55" r="2.25"/><circle cx="612.44" cy="280.04" r="2.25"/><circle cx="613.77" cy="280.88" r="2.25"/><circle cx="615.09" cy="295.59" r="2.25"/><circle cx="616.42" cy="314.15" r="2.25"/><circle cx="617.75" cy="252.62" r="2.25"/><circle cx="619.08" cy="265.16" r="2.25"/><circle cx="620.40" cy="271.18" r="2.25"/><circle cx="621.73" cy="286.40" r="2.25"/><circle cx="623.06" cy="278.71" r="2.25"/><circle cx="624.38" cy="295.59" r="2.25"/><circle cx="625.71" cy="302.95" r="2.25"/><circle cx="627.04" cy="229.55" r="2.25"/><circle cx="628.37" cy="288.24" r="2.25"/><circle cx="629.69" cy="268.34" r="2.25"/><circle cx="631.02" cy="252.96" r="2.25"/><circle cx="632.35" cy="261.32" r="2.25"/><circle cx="633.68" cy="266.17" r="2.25"/><circle cx="635.00" cy="253.46" r="2.25"/><circle cx="636.33" cy="264.66" r="2.25"/><circle cx="637.66" cy="296.26" r="2.25"/><circle cx="638.99" cy="319.17" r="2.25"/><circle cx="640.32" cy="314.32" r="2.25"/><circle cx="641.64" cy="292.92" r="2.25"/><circle cx="642.97" cy="288.24" r="2.25"/><circle cx="644.30" cy="337.73" r="2.25"/><circle cx="645.62" cy="322.35" r="2.25"/><circle cx="646.95" cy="326.02" r="2.25"/><circle cx="648.28" cy="341.57" r="2.25"/><circle cx="649.61" cy="322.18" r="2.25"/><circle cx="650.93" cy="314.82" r="2.25"/><circle cx="652.26" cy="309.47" r="2.25"/><circle cx="653.59" cy="315.16" r="2.25"/><circle cx="654.92" cy="314.32" r="2.25"/><circle cx="656.24" cy="308.47" r="2.25"/><circle cx="657.57" cy="307.80" r="2.25"/><circle cx="658.90" cy="296.76" r="2.25"/><circle cx="660.23" cy="269.68" r="2.25"/><circle cx="661.56" cy="269.34" r="2.25"/><circle cx="662.88" cy="276.53" r="2.25"/><circle cx="664.21" cy="302.95" r="2.25"/><circle cx="665.54" cy="287.57" r="2.25"/><circle cx="666.87" cy="327.03" r="2.25"/><circle cx="668.19" cy="263.83" r="2.25"/><circle cx="669.52" cy="276.37" r="2.25"/><circle cx="670.85" cy="256.64" r="2.25"/><circle cx="672.17" cy="253.96" r="2.25"/><circle cx="673.50" cy="271.35" r="2.25"/><circle cx="674.83" cy="262.66" r="2.25"/><circle cx="676.16" cy="218.35" r="2.25"/><circle cx="677.48" cy="213.33" r="2.25"/><circle cx="678.81" cy="218.85" r="2.25"/><circle cx="680.14" cy="230.05" r="2.25"/><circle cx="681.47" cy="241.25" r="2.25"/><circle cx="682.80" cy="260.82" r="2.25"/><circle cx="684.12" cy="265.33" r="2.25"/><circle cx="685.45" cy="243.43" r="2.25"/><circle cx="686.78" cy="294.59" r="2.25"/><circle cx="688.11" cy="287.74" r="2.25"/><circle cx="689.43" cy="300.28" r="2.25"/><circle cx="690.76" cy="279.21" r="2.25"/><circle cx="692.09" cy="269.01" r="2.25"/><circle cx="693.41" cy="330.37" r="2.25"/><circle cx="694.74" cy="279.54" r="2.25"/><circle cx="696.07" cy="279.71" r="2.25"/><circle cx="697.40" cy="289.24" r="2.25"/><circle cx="698.73" cy="301.11" r="2.25"/><circle cx="700.05" cy="306.96" r="2.25"/><circle cx="701.38" cy="320.51" r="2.25"/><circle cx="702.71" cy="329.03" r="2.25"/><circle cx="704.03" cy="303.95" r="2.25"/><circle cx="705.36" cy="300.44" r="2.25"/><circle cx="706.69" cy="334.55" r="2.25"/><circle cx="708.02" cy="342.08" r="2.25"/><circle cx="709.35" cy="303.62" r="2.25"/><circle cx="710.67" cy="305.96" r="2.25"/><circle cx="712.00" cy="293.92" r="2.25"/><circle cx="713.33" cy="283.05" r="2.25"/><circle cx="714.65" cy="286.57" r="2.25"/><circle cx="715.98" cy="267.00" r="2.25"/><circle cx="717.31" cy="265.50" r="2.25"/><circle cx="718.64" cy="285.56" r="2.25"/><circle cx="719.97" cy="296.93" r="2.25"/><circle cx="721.29" cy="279.88" r="2.25"/><circle cx="722.62" cy="226.71" r="2.25"/><circle cx="723.95" cy="300.11" r="2.25"/><circle cx="725.27" cy="274.19" r="2.25"/><circle cx="726.60" cy="268.68" r="2.25"/><circle cx="727.93" cy="297.77" r="2.25"/><circle cx="729.26" cy="276.20" r="2.25"/><circle cx="730.58" cy="285.06" r="2.25"/><circle cx="731.91" cy="299.27" r="2.25"/><circle cx="733.24" cy="260.82" r="2.25"/><circle cx="734.57" cy="273.69" r="2.25"/><circle cx="735.89" cy="254.80" r="2.25"/><circle cx="737.22" cy="272.52" r="2.25"/><circle cx="738.55" cy="272.69" r="2.25"/><circle cx="739.88" cy="296.10" r="2.25"/><circle cx="741.21" cy="292.92" r="2.25"/><circle cx="742.53" cy="268.84" r="2.25"/><circle cx="743.86" cy="283.56" r="2.25"/><circle cx="745.19" cy="257.81" r="2.25"/><circle cx="746.51" cy="253.46" r="2.25"/><circle cx="747.84" cy="268.17" r="2.25"/><circle cx="749.17" cy="270.18" r="2.25"/><circle cx="750.50" cy="269.68" r="2.25"/><circle cx="751.82" cy="262.49" r="2.25"/><circle cx="753.15" cy="266.33" r="2.25"/><circle cx="754.48" cy="250.45" r="2.25"/><circle cx="755.81" cy="263.49" r="2.25"/><circle cx="757.13" cy="269.34" r="2.25"/><circle cx="758.46" cy="274.86" r="2.25"/><circle cx="759.79" cy="261.99" r="2.25"/><circle cx="761.12" cy="240.42" r="2.25"/><circle cx="762.45" cy="259.48" r="2.25"/><circle cx="763.77" cy="249.11" r="2.25"/><circle cx="765.10" cy="250.62" r="2.25"/><circle cx="766.43" cy="252.29" r="2.25"/><circle cx="767.75" cy="226.71" r="2.25"/><circle cx="769.08" cy="229.38" r="2.25"/><circle cx="770.41" cy="208.32" r="2.25"/><circle cx="771.74" cy="161.50" r="2.25"/><circle cx="773.06" cy="210.16" r="2.25"/><circle cx="774.39" cy="171.53" r="2.25"/><circle cx="775.72" cy="223.53" r="2.25"/><circle cx="777.05" cy="243.43" r="2.25"/><circle cx="778.38" cy="220.02" r="2.25"/><circle cx="779.70" cy="213.83" r="2.25"/><circle cx="781.03" cy="221.69" r="2.25"/><circle cx="782.36" cy="239.92" r="2.25"/><circle cx="783.69" cy="238.24" r="2.25"/><circle cx="785.01" cy="251.79" r="2.25"/><circle cx="786.34" cy="217.68" r="2.25"/><circle cx="787.67" cy="232.56" r="2.25"/><circle cx="789.00" cy="230.22" r="2.25"/><circle cx="790.32" cy="249.78" r="2.25"/><circle cx="791.65" cy="230.05" r="2.25"/><circle cx="792.98" cy="263.66" r="2.25"/><circle cx="794.30" cy="258.81" r="2.25"/><circle cx="795.63" cy="245.60" r="2.25"/><circle cx="796.96" cy="222.86" r="2.25"/><circle cx="798.29" cy="244.43" r="2.25"/><circle cx="799.62" cy="199.96" r="2.25"/><circle cx="800.94" cy="255.63" r="2.25"/><circle cx="802.27" cy="263.66" r="2.25"/><circle cx="803.60" cy="249.95" r="2.25"/><circle cx="804.92" cy="257.14" r="2.25"/><circle cx="806.25" cy="258.14" r="2.25"/><circle cx="807.58" cy="245.60" r="2.25"/><circle cx="808.91" cy="257.47" r="2.25"/><circle cx="810.24" cy="250.12" r="2.25"/><circle cx="811.56" cy="263.16" r="2.25"/><circle cx="812.89" cy="283.05" r="2.25"/><circle cx="814.22" cy="286.23" r="2.25"/><circle cx="815.54" cy="249.45" r="2.25"/><circle cx="816.87" cy="251.79" r="2.25"/><circle cx="818.20" cy="243.60" r="2.25"/><circle cx="819.53" cy="238.41" r="2.25"/><circle cx="820.86" cy="233.23" r="2.25"/><circle cx="822.18" cy="231.06" r="2.25"/><circle cx="823.51" cy="208.32" r="2.25"/><circle cx="824.84" cy="226.21" r="2.25"/><circle cx="826.16" cy="242.59" r="2.25"/><circle cx="827.49" cy="244.60" r="2.25"/><circle cx="828.82" cy="206.64" r="2.25"/><circle cx="830.15" cy="223.03" r="2.25"/><circle cx="831.48" cy="211.66" r="2.25"/><circle cx="832.80" cy="214.17" r="2.25"/><circle cx="834.13" cy="227.38" r="2.25"/><circle cx="835.46" cy="181.56" r="2.25"/><circle cx="836.78" cy="196.28" r="2.25"/><circle cx="838.11" cy="233.40" r="2.25"/><circle cx="839.44" cy="209.99" r="2.25"/><circle cx="840.77" cy="226.37" r="2.25"/><circle cx="842.09" cy="207.48" r="2.25"/><circle cx="843.42" cy="226.71" r="2.25"/><circle cx="844.75" cy="230.22" r="2.25"/><circle cx="846.08" cy="211.66" r="2.25"/><circle cx="847.40" cy="254.13" r="2.25"/><circle cx="848.73" cy="227.38" r="2.25"/><circle cx="850.06" cy="221.02" r="2.25"/><circle cx="851.39" cy="233.73" r="2.25"/><circle cx="852.72" cy="248.11" r="2.25"/><circle cx="854.04" cy="278.54" r="2.25"/><circle cx="855.37" cy="283.56" r="2.25"/><circle cx="856.70" cy="261.32" r="2.25"/><circle cx="858.02" cy="281.88" r="2.25"/><circle cx="859.35" cy="259.31" r="2.25"/><circle cx="860.68" cy="270.51" r="2.25"/><circle cx="862.01" cy="222.53" r="2.25"/><circle cx="863.33" cy="260.15" r="2.25"/><circle cx="864.66" cy="239.08" r="2.25"/><circle cx="865.99" cy="273.52" r="2.25"/><circle cx="867.32" cy="278.54" r="2.25"/><circle cx="868.64" cy="253.46" r="2.25"/><circle cx="869.97" cy="235.07" r="2.25"/><circle cx="871.30" cy="250.12" r="2.25"/><circle cx="872.63" cy="268.51" r="2.25"/><circle cx="873.95" cy="218.35" r="2.25"/><circle cx="875.28" cy="231.72" r="2.25"/><circle cx="876.61" cy="238.41" r="2.25"/><circle cx="877.94" cy="225.04" r="2.25"/><circle cx="879.26" cy="250.12" r="2.25"/><circle cx="880.59" cy="270.18" r="2.25"/><circle cx="881.92" cy="288.57" r="2.25"/><circle cx="883.25" cy="266.84" r="2.25"/><circle cx="884.57" cy="248.44" r="2.25"/><circle cx="885.90" cy="258.48" r="2.25"/><circle cx="887.23" cy="231.72" r="2.25"/><circle cx="888.56" cy="228.38" r="2.25"/><circle cx="889.88" cy="184.91" r="2.25"/><circle cx="891.21" cy="176.55" r="2.25"/><circle cx="892.54" cy="144.78" r="2.25"/><circle cx="893.87" cy="146.45" r="2.25"/><circle cx="895.20" cy="149.80" r="2.25"/><circle cx="896.52" cy="153.14" r="2.25"/><circle cx="897.85" cy="144.78" r="2.25"/><circle cx="899.18" cy="131.40" r="2.25"/><circle cx="900.50" cy="131.40" r="2.25"/><circle cx="901.83" cy="121.37" r="2.25"/><circle cx="903.16" cy="148.12" r="2.25"/><circle cx="904.49" cy="163.17" r="2.25"/><circle cx="905.82" cy="154.81" r="2.25"/><circle cx="907.14" cy="151.47" r="2.25"/><circle cx="908.47" cy="143.11" r="2.25"/><circle cx="909.80" cy="153.14" r="2.25"/><circle cx="911.12" cy="171.53" r="2.25"/><circle cx="912.45" cy="174.88" r="2.25"/><circle cx="913.78" cy="203.30" r="2.25"/><circle cx="915.11" cy="194.94" r="2.25"/><circle cx="916.43" cy="183.24" r="2.25"/><circle cx="917.76" cy="176.55" r="2.25"/></g>
<polyline points="188.97,337.06 190.29,330.37 191.62,324.35 192.95,318.84 194.28,313.48 195.60,309.97 196.93,308.13 198.26,306.80 199.59,305.96 200.91,306.13 202.24,306.63 203.57,307.30 204.90,307.97 206.22,308.64 207.55,309.64 208.88,311.48 210.20,314.66 211.53,317.33 212.86,319.00 214.19,320.51 215.51,321.68 216.84,322.35 218.17,322.85 219.50,323.18 220.82,323.52 222.15,324.52 223.48,326.69 224.81,329.37 226.13,332.04 227.46,335.05 228.79,338.40 230.12,341.41 231.44,343.41 232.77,344.92 234.10,346.09 235.43,346.59 236.75,346.09 238.08,344.92 239.41,343.25 240.74,340.24 242.06,335.05 243.39,329.20 244.72,324.69 246.05,320.51 247.38,316.33 248.70,313.15 250.03,311.48 251.36,311.81 252.69,313.65 254.01,316.16 255.34,318.67 256.67,321.01 258.00,323.35 259.32,325.86 260.65,328.20 261.98,330.37 263.31,332.55 264.63,334.55 265.96,336.39 267.29,338.06 268.62,339.57 269.94,341.24 271.27,343.08 272.60,345.09 273.93,347.43 275.25,349.43 276.58,351.44 277.91,353.45 279.24,355.45 280.56,357.12 281.89,358.13 283.22,358.29 284.55,357.96 285.87,357.29 287.20,356.46 288.53,355.45 289.86,354.11 291.18,351.27 292.51,347.76 293.84,345.09 295.17,342.91 296.49,341.07 297.82,339.07 299.15,337.06 300.48,334.89 301.80,332.55 303.13,329.87 304.46,327.20 305.79,324.19 307.11,321.18 308.44,317.66 309.77,313.48 311.10,308.13 312.42,302.78 313.75,298.10 315.08,295.09 316.40,293.25 317.73,291.58 319.06,290.41 320.39,289.41 321.72,288.57 323.04,287.74 324.37,287.07 325.70,286.40 327.02,286.06 328.35,285.73 329.68,286.23 331.01,289.74 332.34,293.92 333.66,298.60 334.99,303.79 336.32,309.14 337.64,314.32 338.97,320.01 340.30,325.36 341.63,329.54 342.96,333.05 344.28,335.89 345.61,337.06 346.94,336.22 348.26,334.38 349.59,332.04 350.92,328.37 352.25,323.35 353.58,318.50 354.90,314.66 356.23,312.98 357.56,312.15 358.88,311.48 360.21,310.14 361.54,307.97 362.87,305.12 364.20,301.95 365.52,299.11 366.85,296.26 368.18,293.25 369.50,290.08 370.83,287.23 372.16,285.06 373.49,284.22 374.81,284.56 376.14,285.73 377.47,287.40 378.80,289.74 380.12,295.09 381.45,302.45 382.78,309.64 384.11,315.49 385.43,321.51 386.76,327.20 388.09,332.21 389.42,336.06 390.75,338.90 392.07,341.24 393.40,343.25 394.73,345.25 396.05,347.59 397.38,350.44 398.71,352.94 400.04,354.45 401.37,353.95 402.69,351.94 404.02,349.27 405.35,346.09 406.67,343.25 408.00,340.40 409.33,337.23 410.66,334.05 411.99,331.04 413.31,328.53 414.64,326.36 415.97,324.35 417.29,322.35 418.62,320.67 419.95,319.17 421.28,317.83 422.61,316.66 423.93,315.32 425.26,313.82 426.59,311.98 427.91,309.97 429.24,307.97 430.57,305.63 431.90,303.29 433.23,301.11 434.55,298.27 435.88,295.26 437.21,292.25 438.54,289.74 439.86,288.40 441.19,288.40 442.52,289.58 443.84,291.25 445.17,293.09 446.50,294.42 447.83,295.76 449.16,297.27 450.48,298.44 451.81,299.61 453.14,300.61 454.46,301.61 455.79,302.45 457.12,303.29 458.45,304.12 459.77,304.79 461.10,305.63 462.43,306.46 463.76,307.30 465.08,307.97 466.41,308.47 467.74,308.64 469.07,308.47 470.39,307.97 471.72,307.30 473.05,306.46 474.38,305.29 475.70,301.11 477.03,292.92 478.36,283.22 479.69,274.19 481.01,266.00 482.34,257.64 483.67,249.78 485.00,242.93 486.32,237.07 487.65,231.22 488.98,226.88 490.31,225.04 491.63,226.54 492.96,230.39 494.29,235.07 495.62,241.25 496.94,249.28 498.27,258.48 499.60,269.85 500.93,282.22 502.25,290.58 503.58,297.43 504.91,303.29 506.24,307.47 507.56,308.97 508.89,308.80 510.22,308.47 511.55,308.13 512.88,307.63 514.20,307.13 515.53,306.63 516.86,305.96 518.18,305.29 519.51,304.62 520.84,303.95 522.17,302.95 523.49,301.95 524.82,300.61 526.15,299.27 527.48,297.94 528.81,296.43 530.13,295.26 531.46,293.92 532.79,292.75 534.12,291.41 535.44,289.91 536.77,287.90 538.10,285.06 539.42,281.72 540.75,278.54 542.08,275.70 543.41,272.86 544.73,270.51 546.06,268.68 547.39,267.67 548.72,266.67 550.05,265.83 551.37,265.16 552.70,264.66 554.03,264.33 555.36,264.16 556.68,265.00 558.01,267.17 559.34,269.51 560.66,271.18 561.99,272.35 563.32,273.36 564.65,273.86 565.97,273.52 567.30,272.86 568.63,271.85 569.96,271.02 571.29,270.35 572.61,270.18 573.94,270.68 575.27,271.68 576.60,272.86 577.92,274.36 579.25,275.53 580.58,277.20 581.90,279.04 583.23,280.88 584.56,282.22 585.89,283.22 587.21,284.06 588.54,284.73 589.87,285.23 591.20,285.56 592.53,285.40 593.85,284.39 595.18,282.89 596.51,281.05 597.84,279.04 599.16,275.70 600.49,272.35 601.82,270.18 603.14,270.18 604.47,270.68 605.80,271.35 607.13,272.19 608.45,273.19 609.78,274.69 611.11,276.20 612.44,277.70 613.77,278.87 615.09,279.54 616.42,280.04 617.75,280.38 619.08,280.04 620.40,279.21 621.73,277.87 623.06,276.70 624.38,275.36 625.71,274.03 627.04,272.69 628.37,271.52 629.69,271.18 631.02,272.02 632.35,274.19 633.68,277.20 635.00,280.38 636.33,284.56 637.66,289.74 638.99,295.09 640.32,299.44 641.64,303.79 642.97,307.63 644.30,310.64 645.62,313.15 646.95,315.49 648.28,317.00 649.61,317.16 650.93,315.83 652.26,313.48 653.59,311.14 654.92,308.80 656.24,306.13 657.57,303.45 658.90,300.61 660.23,298.10 661.56,295.76 662.88,293.42 664.21,290.75 665.54,287.57 666.87,283.89 668.19,279.71 669.52,275.03 670.85,268.51 672.17,260.98 673.50,254.80 674.83,250.95 676.16,247.78 677.48,246.10 678.81,246.44 680.14,247.61 681.47,249.61 682.80,251.96 684.12,257.47 685.45,266.33 686.78,274.03 688.11,278.04 689.43,280.88 690.76,283.05 692.09,285.40 693.41,287.90 694.74,291.25 696.07,294.76 697.40,297.94 698.73,300.28 700.05,301.61 701.38,302.78 702.71,303.45 704.03,303.45 705.36,301.95 706.69,299.77 708.02,297.60 709.35,295.09 710.67,292.25 712.00,289.41 713.33,286.73 714.65,283.89 715.98,281.22 717.31,279.21 718.64,278.37 719.97,277.87 721.29,277.54 722.62,277.37 723.95,277.20 725.27,277.04 726.60,277.20 727.93,277.54 729.26,278.04 730.58,278.71 731.91,279.38 733.24,279.88 734.57,280.04 735.89,279.71 737.22,278.71 738.55,277.54 739.88,276.20 741.21,274.86 742.53,273.02 743.86,271.02 745.19,269.51 746.51,268.68 747.84,268.17 749.17,267.67 750.50,267.17 751.82,266.50 753.15,265.67 754.48,264.66 755.81,263.49 757.13,262.32 758.46,260.65 759.79,258.64 761.12,256.30 762.45,253.29 763.77,249.78 765.10,245.27 766.43,238.58 767.75,231.72 769.08,225.87 770.41,221.02 771.74,218.01 773.06,215.67 774.39,214.17 775.72,213.67 777.05,215.51 778.38,218.35 779.70,222.19 781.03,227.88 782.36,232.56 783.69,234.23 785.01,235.24 786.34,235.74 787.67,235.90 789.00,235.90 790.32,235.90 791.65,235.90 792.98,237.07 794.30,239.25 795.63,241.42 796.96,243.26 798.29,245.10 799.62,246.94 800.94,248.78 802.27,250.78 803.60,252.79 804.92,254.63 806.25,256.80 807.58,259.48 808.91,261.49 810.24,262.32 811.56,261.65 812.89,260.15 814.22,258.14 815.54,256.14 816.87,253.63 818.20,250.62 819.53,247.27 820.86,243.93 822.18,240.25 823.51,236.24 824.84,232.56 826.16,229.38 827.49,226.71 828.82,224.37 830.15,222.03 831.48,220.19 832.80,218.85 834.13,218.01 835.46,217.18 836.78,216.51 838.11,216.17 839.44,216.51 840.77,218.18 842.09,221.02 843.42,224.03 844.75,228.21 846.08,233.23 847.40,237.91 848.73,241.76 850.06,245.60 851.39,248.61 852.72,250.95 854.04,252.96 855.37,254.96 856.70,256.47 858.02,257.47 859.35,257.81 860.68,257.31 862.01,256.47 863.33,255.47 864.66,253.96 865.99,252.12 867.32,250.62 868.64,250.45 869.97,251.45 871.30,252.79 872.63,253.96 873.95,253.13 875.28,252.29 876.61,249.61 877.94,249.95 879.26,249.78 880.59,248.11 881.92,241.59 883.25,238.41 884.57,231.72 885.90,224.70 887.23,218.85 888.56,211.33 889.88,201.80 891.21,189.59 892.54,179.22 893.87,169.53 895.20,161.00 896.52,155.65 897.85,150.13 899.18,147.46 900.50,144.95 901.83,145.62 903.16,147.46 904.49,149.46 905.82,153.31 907.14,157.15 908.47,161.17 909.80,164.51" fill="none" stroke="#d21f2f" stroke-width="3.4" stroke-linejoin="round" stroke-linecap="round"/>
<g font-size="18.2" font-weight="bold" fill="#6a4891" text-anchor="end"><text x="921.5" y="325.3" textLength="50" lengthAdjust="spacingAndGlyphs">April,</text><text x="922" y="351.9" textLength="51.5" lengthAdjust="spacingAndGlyphs">2025:</text><text x="809.5" y="378.6" textLength="112" lengthAdjust="spacingAndGlyphs" text-anchor="start">+0.61 deg. C</text></g>
<text x="786.6" y="409" font-size="11.2" font-weight="bold" fill="#8a8a8a" textLength="137" lengthAdjust="spacingAndGlyphs">https://drroyspencer.com</text>
<g font-size="13" font-weight="bold" fill="#e27880"><text x="541.9" y="379.6" textLength="104.8" lengthAdjust="spacingAndGlyphs">Running, centered</text><text x="541.9" y="395" textLength="104.1" lengthAdjust="spacingAndGlyphs">13-month average</text></g>
<path d="M592.5 363 L634.5 304.5" stroke="#ec979e" stroke-width="1.9" fill="none"/><path d="M637.5 300.5 L629.6 304.6 L635.6 308.9 Z" fill="#ec979e"/>
</g>
<g font-size="17" font-style="italic" fill="#000"><text xml:space="preserve" x="21.7" y="525.8" textLength="855.3" lengthAdjust="spacingAndGlyphs">In April 2025, the global temperature in April 2025 was 0.61<tspan font-size="12" dy="-6.8">o</tspan><tspan dy="6.8">C above normal.  This this was significantly cooler</tspan></text><text x="21.2" y="548" textLength="134" lengthAdjust="spacingAndGlyphs">most of last year.</text></g>
<text x="935.3" y="557" font-size="18.5" font-weight="bold" fill="#000">2</text>
</svg>
</body></html>
